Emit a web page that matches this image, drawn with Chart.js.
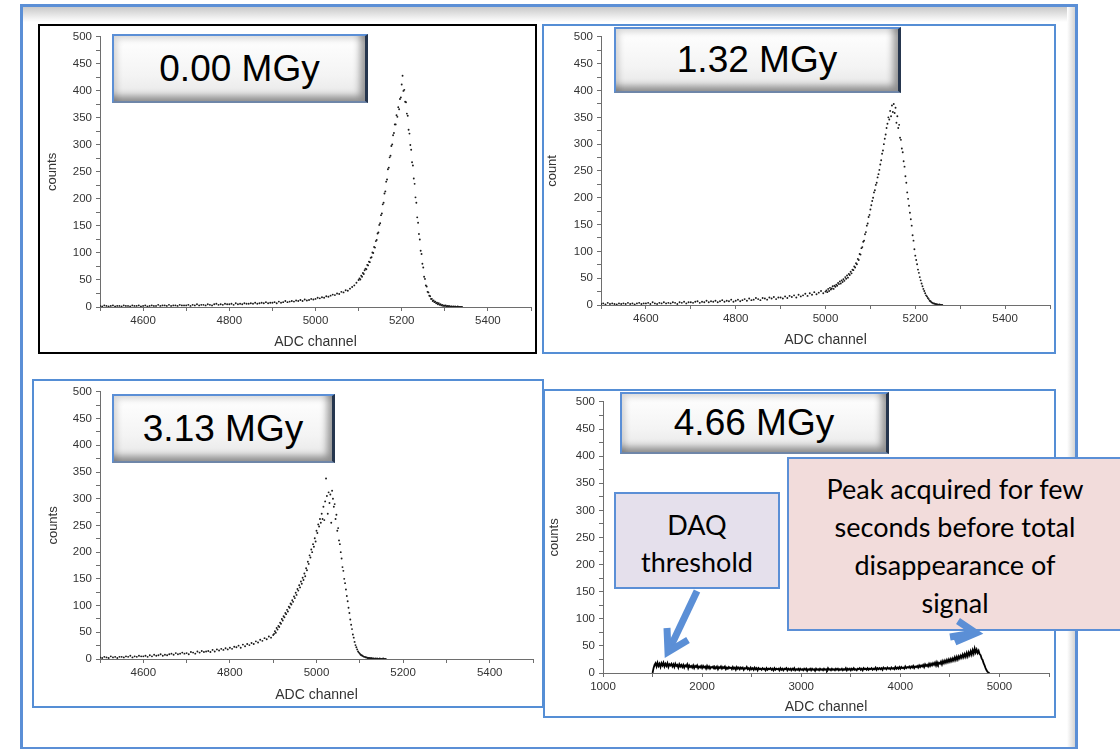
<!DOCTYPE html>
<html>
<head>
<meta charset="utf-8">
<script src="https://cdn.jsdelivr.net/npm/chart.js@4.4.1/dist/chart.umd.min.js"></script>
<style>
  html, body { margin: 0; padding: 0; background: #fff; }
  body { width: 1120px; height: 749px; position: relative; overflow: hidden; font-family: 'Liberation Sans', Arial, sans-serif; }
  .abs { position: absolute; box-sizing: border-box; }
  #frame { left: 20px; top: 4px; width: 1058px; height: 746px; border: 3px solid #5b8fd6; }
  #shadeTop { left: 23px; top: 7px; width: 1052px; height: 15px; background: linear-gradient(#c9c9c9, #fff); }
  #shadeRight { left: 1067px; top: 7px; width: 8px; height: 740px; background: linear-gradient(to right, #fff, #d4d4d4); }
  .panel { border: 2px solid #558ed5; background: #fff; }
  canvas { position: absolute; }
  .tag {
    border: 2px solid #5b8fd6; border-right: 3px solid #26364e; border-bottom: 2px solid #6f86a8;
    background: linear-gradient(#ffffff, #f4f4f4 60%, #e6e6e6);
    box-shadow: inset -8px -8px 7px -3px rgba(0,0,0,0.38), inset 6px 6px 6px -3px rgba(0,0,0,0.16);
    display: flex; align-items: center; justify-content: center;
    font-size: 37px; color: #000;
  }
  .note { border: 2px solid #5b8fd6; font-family: Lato, 'Open Sans', sans-serif; font-size: 27px; line-height: 38px; text-align: center; color: #000; }
</style>
</head>
<body>
<div class="abs" id="frame"></div>
<div class="abs" id="shadeTop"></div>
<div class="abs" id="shadeRight"></div>

<div class="abs panel" style="left:38px;top:24px;width:499px;height:330px;border-color:#000;"></div>
<div class="abs panel" style="left:542px;top:24px;width:514px;height:330px;"></div>
<div class="abs panel" style="left:32px;top:379px;width:512px;height:329px;"></div>
<div class="abs panel" style="left:543px;top:389px;width:513px;height:329px;"></div>

<canvas id="c000" width="495" height="326" style="left:40px;top:26px;"></canvas>
<canvas id="c132" width="510" height="326" style="left:544px;top:26px;"></canvas>
<canvas id="c313" width="508" height="325" style="left:34px;top:381px;"></canvas>
<canvas id="c466" width="509" height="325" style="left:545px;top:391px;"></canvas>

<div class="abs tag" style="left:112px;top:34px;width:256px;height:69px;">0.00 MGy</div>
<div class="abs tag" style="left:614px;top:27px;width:287px;height:66px;">1.32 MGy</div>
<div class="abs tag" style="left:112px;top:394px;width:223px;height:69px;">3.13 MGy</div>
<div class="abs tag" style="left:620px;top:392px;width:269px;height:62px;">4.66 MGy</div>

<div class="abs note" style="left:614px;top:492px;width:166px;height:97px;background:#e5e0ec;padding-top:12px;line-height:37px;">DAQ<br>threshold</div>
<div class="abs note" style="left:787px;top:457px;width:340px;height:174px;background:#f2dcdb;padding-top:11px;padding-right:4px;">Peak acquired for few<br>seconds before total<br>disappearance of<br>signal</div>

<svg class="abs" style="left:0;top:0;" width="1120" height="749">
  <g stroke="#5b8fd6" stroke-width="7" fill="none">
    <line x1="697" y1="591" x2="670" y2="648"/>
    <polyline points="667,628 668,652 688,640"/>
    <line x1="950" y1="637" x2="974" y2="633"/>
    <polyline points="958,621 976,633 955,642"/>
  </g>
</svg>

<script>
// ADC channel grids (x values) and counts

function channels(first, last, step) {
  const out = [];
  for (let c = first; c <= last; c += step) out.push(c);
  return out;
}

// 0.00 MGy
const ch000Tail = channels(4500, 5100, 5);
const cnt000Tail = [
  2,1,3,2,1,2,3,1,2,2, 1,3,2,2,1,3,2,2,3,1,
  2,3,1,2,3,2,2,4,2,3, 3,2,4,2,3,3,2,4,3,3,
  3,4,2,4,3,5,3,4,4,3, 5,4,3,5,6,4,5,4,6,5,
  5,6,4,7,5,6,5,7,6,6, 7,6,8,6,7,8,7,9,7,8,
  8,9,7,10,8,9,11,9,10,11, 10,12,11,13,11,14,12,13,15,14,
  15,17,16,18,17,20,19,21,23,22, 25,24,28,27,31,30,34,37,40,45,
  50
];
const ch000Peak = channels(5102, 5340, 2);
const cnt000Peak = [
  53,51,58,56,63,61,68,71,70,78,
  77,84,83,91,92,101,100,111,110,122,
  124,136,138,152,155,170,173,190,193,210,
  214,232,236,255,258,277,280,298,301,318,
  322,338,338,355,352,370,366,385,388,412,
  428,400,402,380,379,358,354,328,321,300,
  291,268,262,238,228,203,193,166,156,135,
  125,104,98,80,73,56,52,40,38,28,
  27,21,20,15,15,11,12,9,10,7,
  8,5,7,4,5,3,4,2,3,2,
  3,1,2,1,2,0,1,1,0,1,
  0,1,0,0,1,0,0,0,0,0
];

// 1.32 MGy
const ch132Tail = channels(4500, 5000, 5);
const cnt132Tail = [
  2,3,1,4,2,3,2,1,3,2, 3,2,4,2,3,1,3,4,2,3,
  3,4,2,5,3,2,4,3,5,3, 4,3,5,4,2,5,4,6,3,5,
  5,4,6,7,4,6,5,8,5,7, 6,8,5,7,9,6,8,7,10,6,
  8,10,7,9,11,8,12,9,10,13, 11,9,13,12,10,14,12,15,11,14,
  14,12,16,13,17,15,18,14,19,16, 18,21,17,22,19,24,20,23,26,22,
  25
];
const ch132Peak = channels(5002, 5260, 2);
const cnt132Peak = [
  27,24,30,26,32,29,31,35,30,36,
  34,38,36,41,39,44,40,46,43,48,
  45,52,49,55,51,58,56,62,59,66,
  65,72,70,78,76,86,84,95,94,106,
  108,118,120,132,136,148,152,164,168,178,
  186,194,200,210,214,224,228,238,244,252,
  262,270,282,288,300,310,318,330,338,350,
  346,362,352,372,360,375,358,368,340,352,
  330,336,312,308,292,285,268,258,240,228,
  210,198,185,172,160,148,130,120,104,92,
  84,76,66,60,52,46,40,35,30,26,
  22,18,16,13,11,8,7,5,4,3,
  3,2,2,1,1,0,1,0,0,0
];

// 3.13 MGy
const ch313Tail = channels(4500, 4900, 5);
const cnt313Tail = [
  3,2,4,3,2,5,3,4,2,4, 4,3,5,4,6,3,5,4,6,5,
  5,6,4,7,5,8,6,7,9,6, 8,7,9,10,8,11,9,10,12,10,
  11,9,13,12,10,14,12,15,13,14, 15,13,17,14,18,16,19,17,20,18,
  21,19,23,22,25,21,27,24,28,26, 30,28,33,31,36,34,39,37,42,40,
  45
];
const ch313Peak = channels(4902, 5160, 2);
const cnt313Peak = [
  47,52,49,58,55,62,60,68,66,75,
  72,80,78,86,84,92,89,98,96,104,
  102,110,107,117,114,124,120,131,128,138,
  134,145,141,152,148,160,155,170,166,182,
  178,194,190,205,200,215,210,226,220,240,
  236,252,248,262,255,272,262,285,260,295,
  338,305,272,312,292,308,255,315,300,285,
  290,262,270,240,245,222,215,200,188,172,
  165,150,142,130,118,108,96,86,74,64,
  56,46,40,32,26,22,18,14,12,10,
  8,7,6,5,4,4,3,3,2,2,
  2,1,2,1,1,1,0,1,0,1,
  0,0,1,0,0,0,1,0,0,0
];

// 4.66 MGy
const ch466 = channels(1500, 4900, 10);
const cnt466 = [
  0,9,15,18,12,19,13,17,11,18,
  14,19,12,17,13,18,11,16,14,17,
  12,16,11,17,13,15,10,16,12,15,
  11,15,10,14,12,16,9,14,11,13,
  10,14,9,13,11,14,9,12,10,13,
  9,13,10,12,8,13,9,12,8,11,
  10,12,8,11,9,12,7,11,9,12,
  8,11,9,12,7,10,8,11,9,10,
  7,11,8,10,6,11,8,10,7,10,
  8,10,6,9,8,11,7,9,6,10,
  7,9,6,10,7,9,5,9,7,8,
  6,9,7,8,5,9,6,8,7,9,
  6,8,5,9,6,8,7,8,5,9,
  6,8,5,8,7,9,5,8,6,8,
  5,8,6,9,5,7,6,8,5,8,
  6,7,5,8,6,8,4,7,6,8,
  5,8,6,7,4,8,6,7,5,8,
  6,7,5,8,6,7,5,9,6,7,
  5,8,6,7,5,8,6,8,5,7,
  6,8,5,7,6,9,5,8,6,8,
  5,8,6,9,6,7,5,8,7,9,
  6,8,5,9,7,8,6,9,6,8,
  7,9,6,8,7,10,6,9,7,9,
  7,9,6,10,8,9,7,10,8,9,
  7,10,8,9,7,11,8,10,8,11,
  8,11,9,10,8,12,9,11,10,12,
  9,12,10,13,9,12,11,13,10,14,
  11,14,12,15,11,16,13,15,12,17,
  13,17,14,18,15,19,14,20,16,19,
  17,21,16,22,18,23,19,24,20,25,
  21,26,22,27,23,29,24,30,25,31,
  27,32,28,34,29,35,30,37,31,38,
  33,40,34,42,36,45,38,43,37,41,
  35,33,27,24,18,14,9,5,2,1,
  0
];

const fontFamily = "'Liberation Sans', Arial, sans-serif";

function toPoints(xs, ys) {
  return xs.map((x, i) => ({ x: x, y: ys[i] }));
}

function spectrum(id, points, opt) {
  const axisColor = '#6e6e6e';
  return new Chart(document.getElementById(id), {
    type: 'scatter',
    data: {
      datasets: [{
        data: points,
        showLine: !!opt.line,
        borderColor: '#000',
        borderWidth: opt.line ? 1.8 : 0,
        backgroundColor: '#1a1a1a',
        pointRadius: opt.line ? 0 : 0.95,
        pointBorderWidth: 0
      }]
    },
    options: {
      responsive: false,
      animation: false,
      events: [],
      layout: { padding: { top: opt.top, right: opt.right, left: 0, bottom: 0 } },
      plugins: { legend: { display: false }, tooltip: { enabled: false } },
      scales: {
        x: {
          type: 'linear',
          min: opt.xMin,
          max: opt.xMax,
          afterFit: s => { s.height = opt.xh; },
          border: { color: axisColor, width: 1 },
          grid: { drawOnChartArea: false, tickLength: 4, color: axisColor },
          ticks: {
            stepSize: opt.xStep,
            autoSkip: false,
            maxRotation: 0,
            padding: 3,
            color: '#333',
            font: { family: fontFamily, size: 11.5 },
            callback: v => (v % opt.xLabelEvery === 0 ? String(v) : '')
          },
          title: {
            display: true,
            text: 'ADC channel',
            color: '#333',
            font: { family: fontFamily, size: 14 },
            padding: { top: 0, bottom: opt.xTitlePad }
          }
        },
        y: {
          min: 0,
          max: 500,
          afterFit: s => { s.width = opt.yw; },
          border: { color: axisColor, width: 1 },
          grid: { drawOnChartArea: false, tickLength: 4, color: axisColor },
          ticks: {
            stepSize: 25,
            autoSkip: false,
            padding: 4,
            color: '#333',
            font: { family: fontFamily, size: 11.5 },
            callback: v => (v % 50 === 0 ? String(v) : '')
          },
          title: {
            display: true,
            text: opt.yTitle,
            color: '#333',
            font: { family: fontFamily, size: 13 },
            padding: { top: opt.yTitlePad, bottom: 0 }
          }
        }
      }
    }
  });
}

spectrum('c000', toPoints(ch000Tail, cnt000Tail).concat(toPoints(ch000Peak, cnt000Peak)), {
  xMin: 4500, xMax: 5500, xStep: 100, xLabelEvery: 200,
  yw: 60, xh: 45, top: 10, right: 4, xTitlePad: 1, yTitlePad: 5, yTitle: 'counts'
});

spectrum('c132', toPoints(ch132Tail, cnt132Tail).concat(toPoints(ch132Peak, cnt132Peak)), {
  xMin: 4500, xMax: 5500, xStep: 100, xLabelEvery: 200,
  yw: 57, xh: 47, top: 8, right: 4, xTitlePad: 3, yTitlePad: 1, yTitle: 'count'
});

spectrum('c313', toPoints(ch313Tail, cnt313Tail).concat(toPoints(ch313Peak, cnt313Peak)), {
  xMin: 4500, xMax: 5500, xStep: 100, xLabelEvery: 200,
  yw: 66, xh: 47, top: 5, right: 9, xTitlePad: 2, yTitlePad: 12, yTitle: 'counts'
});

spectrum('c466', toPoints(ch466, cnt466), {
  xMin: 1000, xMax: 5500, xStep: 500, xLabelEvery: 1000, line: true,
  yw: 58, xh: 43, top: 5, right: 5, xTitlePad: 0, yTitlePad: 2, yTitle: 'counts'
});
</script>
</body>
</html>
